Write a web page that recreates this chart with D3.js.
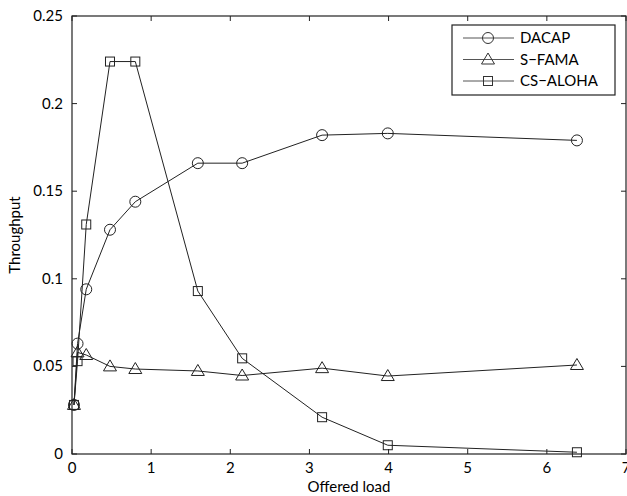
<!DOCTYPE html>
<html>
<head>
<meta charset="utf-8">
<script src="https://cdn.jsdelivr.net/npm/d3@7"></script>
<style>
	body { margin: 0; background: #fff; }
	text { font-family: Lato, "Noto Sans", sans-serif; fill: #000; }
</style>
</head>
<body>
<div class="graphic"></div>
<script>
// offered load values (same for all three curves)
var load = [0.025, 0.07, 0.18, 0.48, 0.8, 1.59, 2.15, 3.16, 3.99, 6.38]

var dacap = [0.028, 0.063, 0.094, 0.128, 0.144, 0.166, 0.166, 0.182, 0.183, 0.179]
var sfama = [0.028, 0.058, 0.0565, 0.050, 0.0485, 0.0474, 0.0448, 0.049, 0.0445, 0.0508]
var csaloha = [0.028, 0.053, 0.131, 0.224, 0.224, 0.093, 0.0546, 0.021, 0.005, 0.001]

var seriesNames = ['DACAP', 'S\u2212FAMA', 'CS\u2212ALOHA']
var seriesMarks = ['circle', 'triangle', 'square']

var xTicks = [0, 1, 2, 3, 4, 5, 6, 7]
var yTicks = [0, 0.05, 0.1, 0.15, 0.2, 0.25]

var width = 627
var height = 496
var margin = { left: 72, right: 1, top: 16, bottom: 42 }
var lineColor = '#222'
var fontSize = '15px'

var svg = d3.select('.graphic').append('svg')
	.attr('width', width)
	.attr('height', height)

var scaleX = d3.scaleLinear().domain([0, 7]).range([margin.left, width - margin.right])
var scaleY = d3.scaleLinear().domain([0, 0.25]).range([height - margin.bottom, margin.top])

var x0 = scaleX(0), x1 = scaleX(7), y0 = scaleY(0), y1 = scaleY(0.25)

// ticks pointing inward on all four sides, like a matlab box
var tickLen = 5
var ticks = svg.append('g').attr('stroke', lineColor).attr('stroke-width', 1)
xTicks.forEach(function(t) {
	var x = scaleX(t)
	ticks.append('line').attr('x1', x).attr('x2', x).attr('y1', y0).attr('y2', y0 - tickLen)
	ticks.append('line').attr('x1', x).attr('x2', x).attr('y1', y1).attr('y2', y1 + tickLen)
})
yTicks.forEach(function(t) {
	var y = scaleY(t)
	ticks.append('line').attr('x1', x0).attr('x2', x0 + tickLen).attr('y1', y).attr('y2', y)
	ticks.append('line').attr('x1', x1).attr('x2', x1 - tickLen).attr('y1', y).attr('y2', y)
})

svg.append('rect')
	.attr('x', x0).attr('y', y1)
	.attr('width', x1 - x0).attr('height', y0 - y1)
	.attr('fill', 'none').attr('stroke', lineColor).attr('stroke-width', 1.2)

svg.selectAll('.xlab').data(xTicks).enter().append('text')
	.attr('x', function(d) { return scaleX(d) })
	.attr('y', y0 + 19)
	.attr('text-anchor', 'middle')
	.style('font-size', fontSize)
	.text(function(d) { return d })

svg.selectAll('.ylab').data(yTicks).enter().append('text')
	.attr('x', x0 - 9)
	.attr('y', function(d) { return scaleY(d) + 5 })
	.attr('text-anchor', 'end')
	.style('font-size', fontSize)
	.text(function(d) { return d })

svg.append('text')
	.attr('x', (x0 + x1) / 2)
	.attr('y', height - 4)
	.attr('text-anchor', 'middle')
	.style('font-size', fontSize)
	.text('Offered load')

svg.append('text')
	.attr('transform', 'translate(20,' + ((y0 + y1) / 2) + ') rotate(-90)')
	.attr('text-anchor', 'middle')
	.style('font-size', fontSize)
	.text('Throughput')

function drawMark(g, kind, x, y) {
	if (kind === 'circle') {
		g.append('circle').attr('cx', x).attr('cy', y).attr('r', 5.5)
	} else if (kind === 'triangle') {
		g.append('path').attr('d', 'M' + x + ',' + (y - 6.5) + 'L' + (x + 6.5) + ',' + (y + 4.5) + 'L' + (x - 6.5) + ',' + (y + 4.5) + 'Z')
	} else {
		g.append('rect').attr('x', x - 4.5).attr('y', y - 4.5).attr('width', 9).attr('height', 9)
	}
}

var line = d3.line()
	.x(function(d) { return scaleX(d[0]) })
	.y(function(d) { return scaleY(d[1]) })

var plot = svg.append('g')
;[dacap, sfama, csaloha].forEach(function(vals, i) {
	var pts = load.map(function(l, j) { return [l, vals[j]] })
	plot.append('path')
		.attr('d', line(pts))
		.attr('fill', 'none')
		.attr('stroke', lineColor)
		.attr('stroke-width', 1)
	var mg = plot.append('g').attr('fill', 'none').attr('stroke', lineColor).attr('stroke-width', 1)
	pts.forEach(function(p) { drawMark(mg, seriesMarks[i], scaleX(p[0]), scaleY(p[1])) })
})

// legend
var legend = svg.append('g')
legend.append('rect')
	.attr('x', 452).attr('y', 25).attr('width', 163).attr('height', 70)
	.attr('fill', '#fff').attr('stroke', lineColor).attr('stroke-width', 1.2)
seriesNames.forEach(function(name, i) {
	var y = 38 + i * 21.5
	legend.append('line').attr('x1', 463).attr('x2', 514).attr('y1', y).attr('y2', y)
		.attr('stroke', '#555').attr('stroke-width', 1)
	var mg = legend.append('g').attr('fill', 'none').attr('stroke', '#333').attr('stroke-width', 1)
	drawMark(mg, seriesMarks[i], 488, y)
	legend.append('text').attr('x', 520).attr('y', y + 5)
		.style('font-size', fontSize)
		.text(name)
})
</script>
</body>
</html>
